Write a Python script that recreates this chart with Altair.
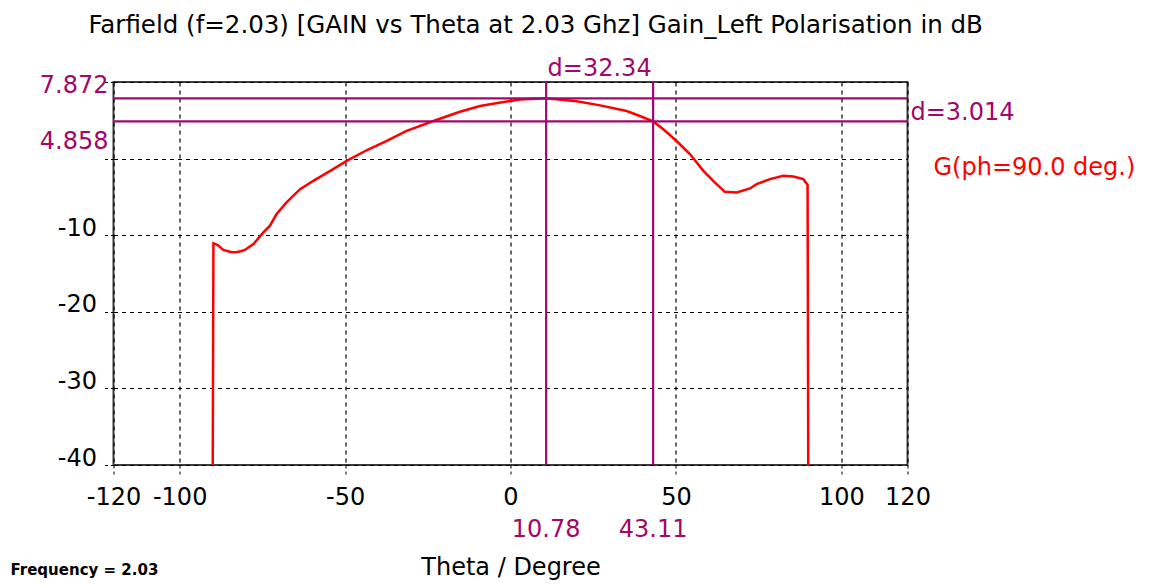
import altair as alt
import pandas as pd

# ---- data ----
theta = [-90, -89.8, -88.5, -86.8, -84.5, -83.3, -81.5, -80.3, -77.7, -74.7, -72.7,
         -70.7, -67.7, -63.6, -59.6, -53.6, -49.5, -43.5, -37.4, -31.4, -23.3, -15.3,
         -9.2, -3.5, 2.9, 10.78, 20.0, 27.1, 35.1, 39.1, 43.11, 46.2, 50.2, 54.3, 58.3,
         61.8, 64.8, 68.4, 72.4, 74.4, 78.4, 82.5, 85.5, 88.5, 89.8, 90]
gain = [-40, -11.07, -11.3, -11.93, -12.2, -12.24, -12.1, -11.93, -11.15, -9.63, -8.76,
        -7.24, -5.72, -3.99, -2.90, -1.38, -0.30, 1.09, 2.30, 3.61, 4.91, 6.12,
        6.86, 7.3, 7.7, 7.87, 7.5, 6.95, 6.21, 5.56, 4.858, 3.83, 2.30, 0.57, -1.60,
        -3.13, -4.34, -4.42, -3.9, -3.33, -2.68, -2.25, -2.34, -2.68, -3.42, -40]

x_ticks = [-120, -100, -50, 0, 50, 100, 120]
y_ticks = [-40, -30, -20, -10, 0, 10]
marker_theta = [10.78, 43.11]
marker_gain = [7.872, 4.858]
d_theta = "d=32.34"
d_gain = "d=3.014"
title_text = "Farfield (f=2.03) [GAIN vs Theta at 2.03 Ghz] Gain_Left Polarisation in dB"
legend_text = "G(ph=90.0 deg.)"
freq_text = "Frequency = 2.03"

PURPLE = "#A0086C"
RED = "#FF0000"
FONT = "DejaVu Sans"

df = pd.DataFrame({"theta": theta, "gain": gain, "idx": range(len(theta))})

xs = alt.Scale(domain=[-120, 120], nice=False, zero=False)
ys = alt.Scale(domain=[-40, 10], nice=False, zero=False)

x_axis = alt.Axis(values=x_ticks, labelExpr="'' + datum.value", labelFont=FONT,
                  labelFontSize=24, labelColor="black", labelBaseline="alphabetic",
                  labelPadding=29, tickSize=10, tickDash=[3, 3], tickColor="black",
                  domain=False, grid=True, gridDash=[4, 4], gridColor="black",
                  gridOpacity=1, gridWidth=1.2, title="Theta / Degree",
                  titleFont=FONT, titleFontSize=24, titleFontWeight="normal",
                  titleColor="black", titleX=397, titleY=109,
                  titleBaseline="alphabetic", labelFlush=False, labelOverlap=False)
y_axis = alt.Axis(values=y_ticks,
                  labelExpr="datum.value >= 0 ? '' : '' + datum.value",
                  labelFont=FONT, labelFontSize=24, labelColor="black",
                  labelBaseline="alphabetic", labelPadding=8, tickSize=9,
                  tickDash=[3, 3], tickColor="black", domain=False, grid=True,
                  gridDash=[4, 4], gridColor="black", gridOpacity=1, gridWidth=1.2,
                  title=None, labelFlush=False, labelOverlap=False)

base = alt.Chart(df)

curve = base.mark_line(color=RED, strokeWidth=2.5, interpolate="linear").encode(
    x=alt.X("theta:Q", scale=xs, axis=x_axis),
    y=alt.Y("gain:Q", scale=ys, axis=y_axis),
    order="idx:Q",
)

vrules = alt.Chart(pd.DataFrame({"t": marker_theta})).mark_rule(
    color=PURPLE, strokeWidth=2.2).encode(x=alt.X("t:Q", scale=xs))
hrules = alt.Chart(pd.DataFrame({"g": marker_gain})).mark_rule(
    color=PURPLE, strokeWidth=2.2).encode(y=alt.Y("g:Q", scale=ys))

# marker value labels below the x axis
vlabels = alt.Chart(pd.DataFrame({"t": marker_theta,
                                  "lab": [f"{v:.2f}" for v in marker_theta]})).mark_text(
    color=PURPLE, font=FONT, fontSize=24, baseline="alphabetic", align="center",
    dy=72).encode(x=alt.X("t:Q", scale=xs), y=alt.datum(-40), text="lab:N")

# marker value labels left of the y axis
hl1 = alt.Chart(pd.DataFrame({"g": [marker_gain[0]], "lab": ["7.872"]})).mark_text(
    color=PURPLE, font=FONT, fontSize=24, baseline="alphabetic", align="right",
    dx=-5, dy=-5).encode(x=alt.datum(-120), y=alt.Y("g:Q", scale=ys), text="lab:N")
hl2 = alt.Chart(pd.DataFrame({"g": [marker_gain[1]], "lab": ["4.858"]})).mark_text(
    color=PURPLE, font=FONT, fontSize=24, baseline="alphabetic", align="right",
    dx=-5, dy=28).encode(x=alt.datum(-120), y=alt.Y("g:Q", scale=ys), text="lab:N")

# delta labels
dtheta = alt.Chart(pd.DataFrame({"t": [(marker_theta[0] + marker_theta[1]) / 2],
                                 "lab": [d_theta]})).mark_text(
    color=PURPLE, font=FONT, fontSize=24, baseline="alphabetic", align="center",
    dy=-6).encode(x=alt.X("t:Q", scale=xs), y=alt.datum(10), text="lab:N")
dgain = alt.Chart(pd.DataFrame({"g": [marker_gain[1]], "lab": [d_gain]})).mark_text(
    color=PURPLE, font=FONT, fontSize=24, baseline="alphabetic", align="left",
    dx=3, dy=-1).encode(x=alt.datum(120), y=alt.Y("g:Q", scale=ys), text="lab:N")

legend = alt.Chart(pd.DataFrame({"lab": [legend_text]})).mark_text(
    color=RED, font=FONT, fontSize=24, baseline="alphabetic", align="left",
    dx=26, dy=16).encode(x=alt.datum(120), y=alt.datum(0), text="lab:N")

title = alt.Chart(pd.DataFrame({"lab": [title_text]})).mark_text(
    color="black", font=FONT, fontSize=24.5, baseline="alphabetic", align="left",
    dx=-25, dy=-49).encode(x=alt.datum(-120), y=alt.datum(10), text="lab:N")

freq = alt.Chart(pd.DataFrame({"lab": [freq_text]})).mark_text(
    color="black", font=FONT, fontSize=15, fontWeight="bold", baseline="alphabetic",
    align="left", dx=-103, dy=110).encode(x=alt.datum(-120), y=alt.datum(-40),
                                         text="lab:N")

chart = alt.layer(curve, vrules, hrules, vlabels, hl1, hl2, dtheta, dgain, legend,
                  title, freq).properties(
    width=794, height=383,
    autosize=alt.AutoSizeParams(type="none"),
    padding={"left": 105.5, "top": 74, "right": 237.5, "bottom": 115},
    background="white",
).configure_view(stroke="#3c3c3c", strokeWidth=2)

chart.save("out.html", embed_options={"renderer": "svg", "actions": False})
